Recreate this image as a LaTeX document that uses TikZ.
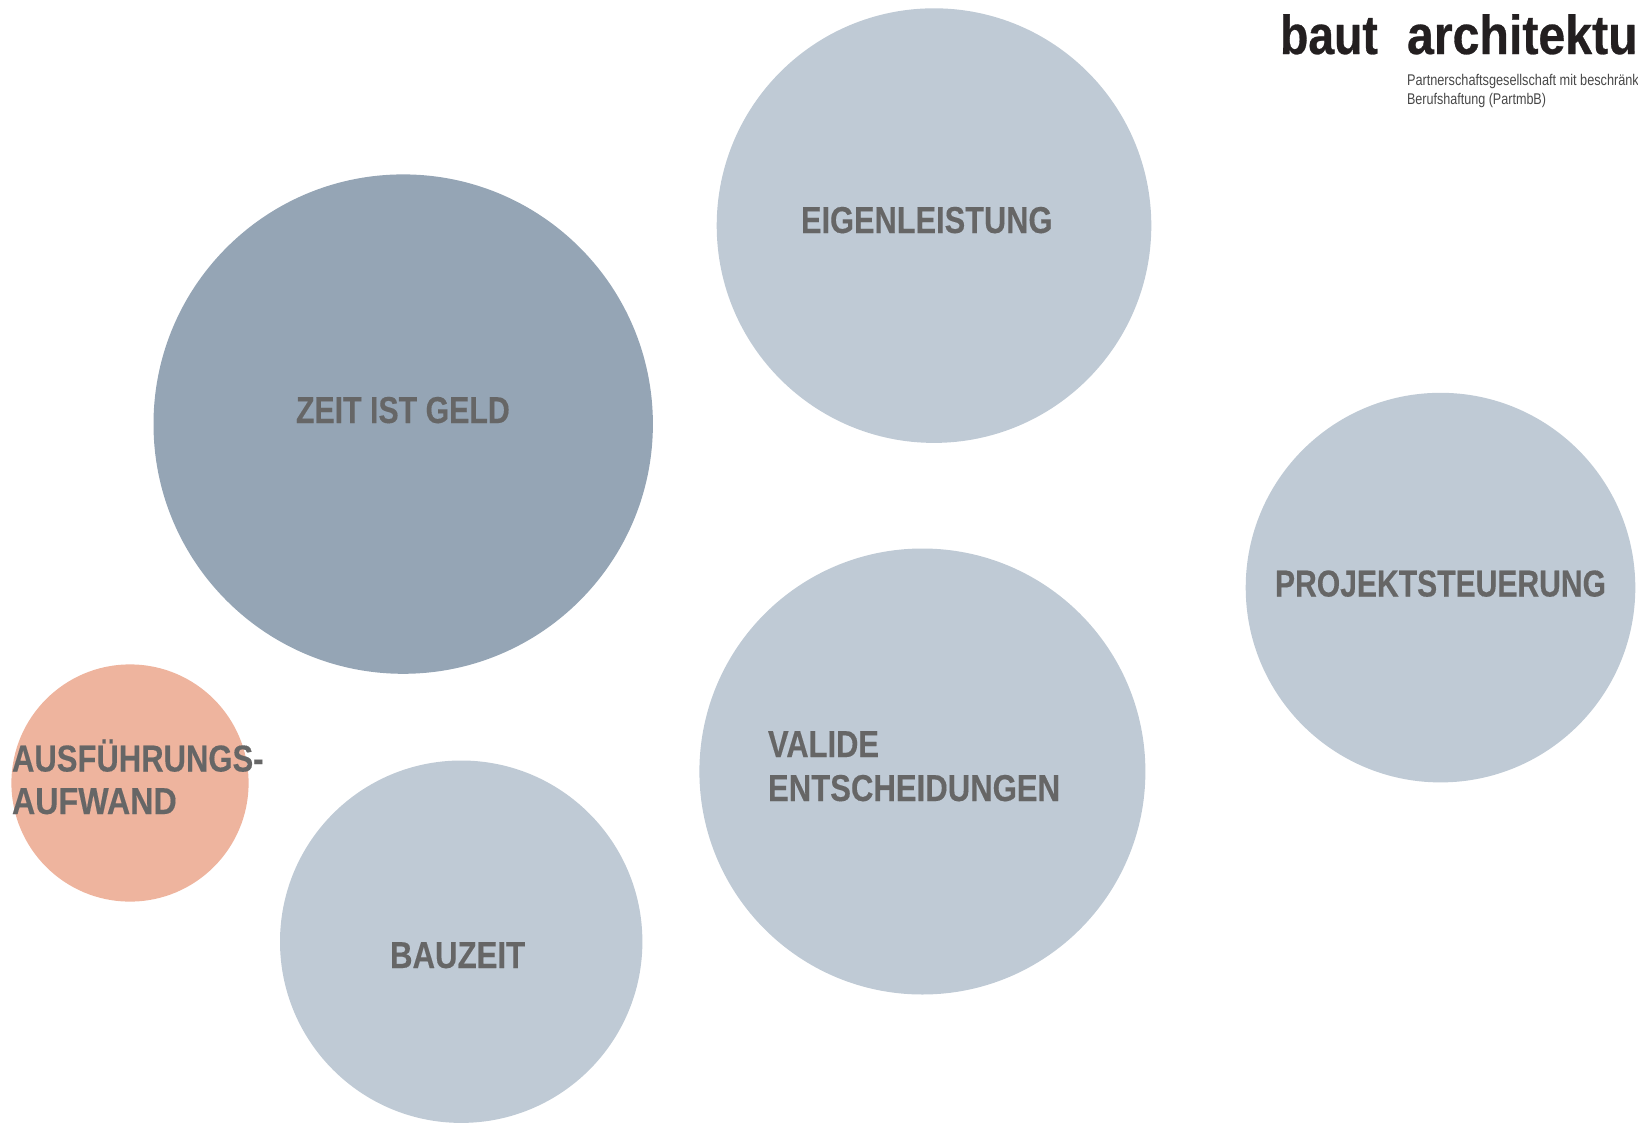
\documentclass[tikz,border=0pt]{standalone}
\usepackage{fontspec}
\setmainfont{Liberation Sans}
\newfontfamily\labelfont[FakeStretch=0.8,FakeBold=0.25]{Liberation Sans Bold}
\newfontfamily\logofont[FakeStretch=0.78,FakeBold=0.5]{Liberation Sans Bold}
\newfontfamily\subfont[FakeStretch=0.78]{Liberation Sans}
\definecolor{dark}{HTML}{95A5B5}
\definecolor{pale}{HTML}{BFCAD5}
\definecolor{salmon}{HTML}{EEB49E}
\definecolor{labelgrey}{HTML}{666666}
\definecolor{logoblack}{HTML}{231F20}
\newcommand{\widen}[2]{\scalebox{#1}[1]{#2}}
\tikzset{
  bubble/.style={circle,inner sep=0pt,minimum size=#1,draw=none},
  lab/.style={anchor=base west,inner sep=0pt,outer sep=0pt,text=labelgrey,font=\labelfont\fontsize{37.5}{37.5}\selectfont},
  logo/.style={anchor=base west,inner sep=0pt,outer sep=0pt,text=logoblack,font=\logofont\fontsize{55}{55}\selectfont},
  sub/.style={anchor=base west,inner sep=0pt,outer sep=0pt,text=labelgrey!70!black,font=\subfont\fontsize{15.5}{15.5}\selectfont}
}
\begin{document}
\begin{tikzpicture}[x=1pt,y=-1pt]
\useasboundingbox (0,0) rectangle (1638,1127);
\clip (0,0) rectangle (1638,1127);
\node[bubble=434.6pt,fill=pale] (c1) at (934,225.6) {};
\node[bubble=499.4pt,fill=dark] (c2) at (403.2,424.1) {};
\node[bubble=389.6pt,fill=pale] (c3) at (1440.5,587.6) {};
\node[bubble=446pt,fill=pale] (c4) at (922.4,771.5) {};
\node[bubble=362.4pt,fill=pale] (c5) at (461.2,941.7) {};
\node[bubble=237.2pt,fill=salmon] (c6) at (130,783) {};
\node[lab] (l1) at (801,233) {\widen{1.026}{EIGENLEISTUNG}};
\node[lab] (l2) at (296,423) {\widen{1.01}{ZEIT IST GELD}};
\node[lab] (l3) at (1275,596.5) {\widen{1.003}{PROJEKTSTEUERUNG}};
\node[lab] (l4) at (768,757) {\widen{1.03}{VALIDE}};
\node[lab] (l4b) at (768,801) {\widen{1.037}{ENTSCHEIDUNGEN}};
\node[lab] (l5) at (390,968) {\widen{1.04}{BAUZEIT}};
\node[lab] (l6) at (12,771.5) {\widen{1.034}{AUSFÜHRUNGS-}};
\node[lab] (l6b) at (12,814) {\widen{1.075}{AUFWAND}};
\node[logo] (b1) at (1280,54) {\widen{1.08}{baut}};
\node[logo] (b2) at (1407,54) {\widen{1.125}{architektu}};
\node[sub] (s1) at (1407,85) {\widen{1.052}{Partnerschaftsgesellschaft mit beschränk}};
\node[sub] (s2) at (1407,104) {\widen{1.04}{Berufshaftung (PartmbB)}};
\end{tikzpicture}
\end{document}
